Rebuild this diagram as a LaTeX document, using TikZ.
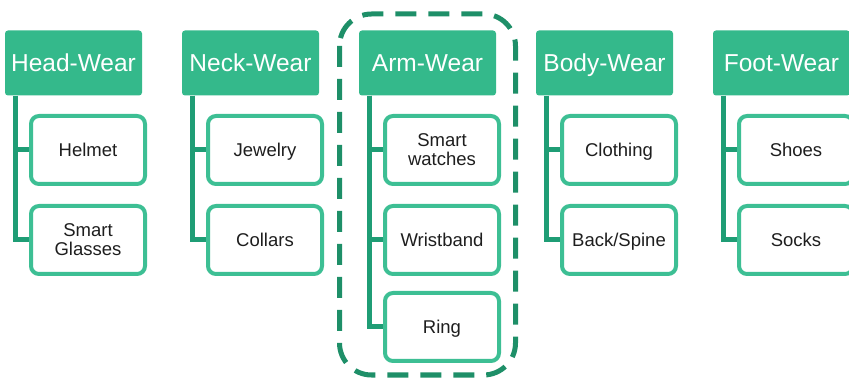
\documentclass[tikz,border=0pt]{standalone}
\usepackage{fontspec}
\setmainfont{Liberation Sans}
\definecolor{headgreen}{HTML}{34B98B}
\definecolor{boxgreen}{HTML}{3DBF94}
\definecolor{linkgreen}{HTML}{1F9D75}
\definecolor{framegreen}{HTML}{1E8F68}
\definecolor{itemtext}{HTML}{1E1E1E}
\tikzset{
  head/.style={fill=headgreen,draw=none,rounded corners=3pt,text=white,
    minimum width=137pt,minimum height=65pt,inner sep=0pt,
    text height=20pt,text depth=2pt,
    font=\fontsize{24.5}{29}\selectfont},
  item/.style={fill=white,draw=boxgreen,line width=4pt,rounded corners=8pt,
    text=itemtext,minimum width=114pt,minimum height=68pt,inner sep=0pt,
    align=center,font=\fontsize{18.5}{19}\selectfont},
  oneline/.style={text height=15pt,text depth=1pt},
  link/.style={draw=linkgreen,line width=5pt},
  frame/.style={draw=framegreen,line width=5pt,rounded corners=32pt,
    dash pattern=on 21pt off 12pt}
}
\begin{document}
\begin{tikzpicture}[x=1pt,y=-1pt]
\useasboundingbox (0,0) rectangle (849,379);

% group frame round the arm column
\draw[frame] (339.5,14) rectangle (515.5,375);

% headers
\node[head] (hw) at (73.5,63) {Head-Wear};
\node[head] (nw) at (250.5,63) {Neck-Wear};
\node[head] (aw) at (427.5,63) {Arm-Wear};
\node[head] (bw) at (604.5,63) {Body-Wear};
\node[head] (fw) at (781.5,63) {Foot-Wear};

% connectors
\draw[link] ([xshift=10.5pt]hw.south west) |- (88,150);
\draw[link] ([xshift=10.5pt]hw.south west) |- (88,240);
\draw[link] ([xshift=10.5pt]nw.south west) |- (265,150);
\draw[link] ([xshift=10.5pt]nw.south west) |- (265,240);
\draw[link] ([xshift=10.5pt]aw.south west) |- (442,150);
\draw[link] ([xshift=10.5pt]aw.south west) |- (442,240);
\draw[link] ([xshift=10.5pt]aw.south west) |- (442,327);
\draw[link] ([xshift=10.5pt]bw.south west) |- (619,150);
\draw[link] ([xshift=10.5pt]bw.south west) |- (619,240);
\draw[link] ([xshift=10.5pt]fw.south west) |- (796,150);
\draw[link] ([xshift=10.5pt]fw.south west) |- (796,240);

% items
\node[item,oneline] (hw1) at (88,150) {Helmet};
\node[item] (hw2) at (88,240) {Smart\\Glasses};
\node[item,oneline] (nw1) at (265,150) {Jewelry};
\node[item,oneline] (nw2) at (265,240) {Collars};
\node[item] (aw1) at (442,150) {Smart\\watches};
\node[item,oneline] (aw2) at (442,240) {Wristband};
\node[item,oneline] (aw3) at (442,327) {Ring};
\node[item,oneline] (bw1) at (619,150) {Clothing};
\node[item,oneline] (bw2) at (619,240) {Back/Spine};
\node[item,oneline] (fw1) at (796,150) {Shoes};
\node[item,oneline] (fw2) at (796,240) {Socks};

\end{tikzpicture}
\end{document}
